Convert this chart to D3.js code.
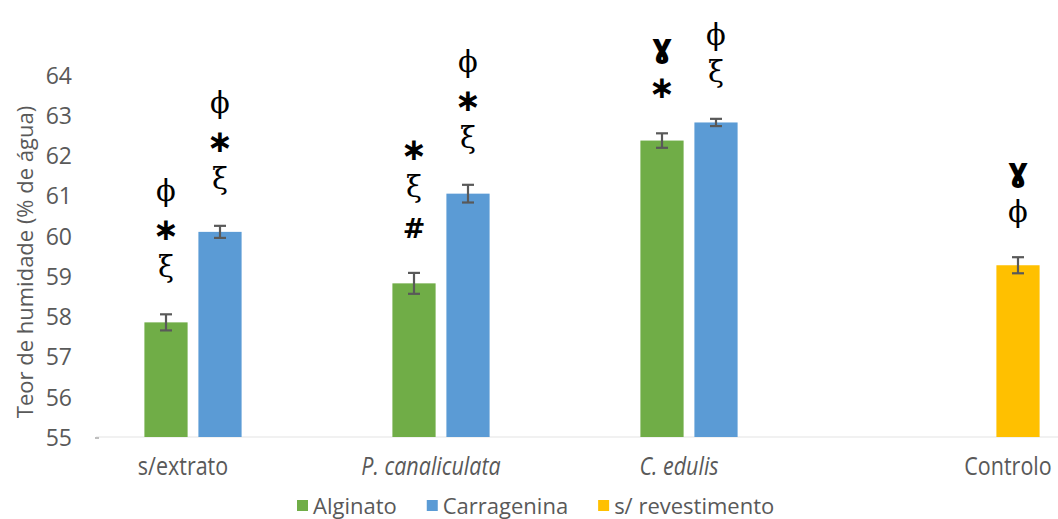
<!DOCTYPE html>
<html>
<head>
<meta charset="utf-8">
<script src="https://cdn.jsdelivr.net/npm/d3@7"></script>
<style>
  html, body { margin: 0; padding: 0; background: #fff; }
  svg { display: block; }
  .lbl { font-family: "Open Sans", sans-serif; fill: #595959; }
</style>
</head>
<body>
<svg id="chart" width="1058" height="519"></svg>
<script>
// Moisture content by coating and extract
const categories = ["s/extrato", "P. canaliculata", "C. edulis", "Controlo"];
const italicCategories = ["P. canaliculata", "C. edulis"];
const seriesNames = ["Alginato", "Carragenina", "s/ revestimento"];
const seriesColors = ["#70AD47", "#5B9BD5", "#FFC000"];

// mean values per category (null = not measured for that coating)
const alginato      = [57.85, 58.82, 62.37, null];
const carragenina   = [60.10, 61.05, 62.82, null];
const semRevest     = [null, null, null, 59.27];

// standard deviation per bar
const alginatoErr    = [0.20, 0.26, 0.18, null];
const carrageninaErr = [0.15, 0.22, 0.09, null];
const semRevestErr   = [null, null, null, 0.20];

// significance markers above each bar, listed top to bottom
const alginatoMarks    = [["ϕ", "∗", "ξ"], ["∗", "ξ", "#"], ["ɣ", "∗"], []];
const carrageninaMarks = [["ϕ", "∗", "ξ"], ["ϕ", "∗", "ξ"], ["ϕ", "ξ"], []];
const semRevestMarks   = [[], [], [], ["ɣ", "ϕ"]];

const yTicks = [55, 56, 57, 58, 59, 60, 61, 62, 63, 64];
const yLabel = "Teor de humidade (% de água)";

const values = [alginato, carragenina, semRevest];
const errors = [alginatoErr, carrageninaErr, semRevestErr];
const marks  = [alginatoMarks, carrageninaMarks, semRevestMarks];

const svg = d3.select("#chart");
const margin = { top: 75, left: 96, bottom: 82 };
const plotRight = 1088;           // plot area runs past the right edge
const height = 519;
const y0 = height - margin.bottom;

const x0 = d3.scaleBand()
  .domain(categories)
  .range([margin.left, plotRight])
  .paddingInner(0.3468)
  .paddingOuter(0.1734);

const x1 = d3.scaleBand()
  .domain(seriesNames)
  .range([0, x0.bandwidth()])
  .paddingInner(0.2)
  .paddingOuter(0.1);

const y = d3.scaleLinear().domain([55, 64]).range([y0, margin.top]);

// baseline
svg.append("line")
  .attr("x1", margin.left).attr("x2", 1058)
  .attr("y1", y(55)).attr("y2", y(55))
  .attr("stroke", "#e3e3e3").attr("stroke-width", 1);
svg.append("line")
  .attr("x1", margin.left - 1).attr("x2", margin.left + 3)
  .attr("y1", y(55) + 1).attr("y2", y(55) + 1)
  .attr("stroke", "#bfbfbf").attr("stroke-width", 2);

// y axis tick labels
const yAxis = d3.axisLeft(y).tickValues(yTicks).tickSize(0).tickPadding(0).tickFormat(d3.format("d"));
const yg = svg.append("g").attr("transform", `translate(${margin.left - 24},0)`).call(yAxis);
yg.select(".domain").remove();
yg.selectAll("text")
  .attr("class", "lbl")
  .attr("font-size", 23)
  .attr("dy", "0.36em")
  .attr("x", 0)
  .style("font-family", "'Open Sans', sans-serif")
  .style("fill", "#595959");

// y axis title
svg.append("text")
  .attr("class", "lbl")
  .attr("font-size", 22)
  .attr("text-anchor", "middle")
  .attr("transform", `translate(33,${(y(55) + y(64)) / 2 + 6}) rotate(-90)`)
  .text(yLabel);

// bars, error bars and markers
const barData = [];
categories.forEach((c, ci) => {
  seriesNames.forEach((s, si) => {
    const v = values[si][ci];
    if (v == null) return;
    barData.push({ c, s, si, v, e: errors[si][ci], m: marks[si][ci] });
  });
});

const bars = svg.append("g");
bars.selectAll("rect").data(barData).join("rect")
  .attr("x", d => x0(d.c) + x1(d.s))
  .attr("width", x1.bandwidth())
  .attr("y", d => y(d.v))
  .attr("height", d => y(55) - y(d.v))
  .attr("fill", d => seriesColors[d.si]);

const cx = d => x0(d.c) + x1(d.s) + x1.bandwidth() / 2;
const eb = svg.append("g").attr("stroke", "#595959").attr("stroke-width", 2.2);
barData.forEach(d => {
  const xc = cx(d);
  eb.append("line").attr("x1", xc).attr("x2", xc).attr("y1", y(d.v + d.e)).attr("y2", y(d.v - d.e));
  eb.append("line").attr("x1", xc - 6).attr("x2", xc + 6).attr("y1", y(d.v + d.e)).attr("y2", y(d.v + d.e));
  eb.append("line").attr("x1", xc - 6).attr("x2", xc + 6).attr("y1", y(d.v - d.e)).attr("y2", y(d.v - d.e));
});

// markers, stacked upward from the error bar
const markStyle = {
  "ϕ": { font: "'DejaVu Serif', serif", size: 29, weight: "normal", dy: 10 },
  "ξ": { font: "'DejaVu Serif', serif", size: 29, weight: "normal", dy: 8 },
  "∗": { font: "'DejaVu Sans', sans-serif", size: 31, weight: "bold", dy: 10 },
  "#": { font: "'DejaVu Sans', sans-serif", size: 27, weight: "bold", dy: 10 },
  "ɣ": { font: "'DejaVu Sans', sans-serif", size: 32, weight: "bold", dy: 8 }
};
const mg = svg.append("g");
barData.forEach(d => {
  const xc = cx(d);
  const base = y(d.v + d.e) - 45;
  const n = d.m.length;
  d.m.forEach((sym, i) => {
    const st = markStyle[sym];
    mg.append("text")
      .attr("x", xc)
      .attr("y", base - (n - 1 - i) * 39 + st.dy)
      .attr("text-anchor", "middle")
      .attr("font-family", st.font)
      .attr("font-size", st.size)
      .attr("font-weight", st.weight)
      .attr("fill", "#000")
      .text(sym);
  });
});

// category labels, centred under the bars present in each category
const cg = svg.append("g");
categories.forEach(c => {
  const present = barData.filter(d => d.c === c).map(cx);
  const xc = d3.mean(present) - 10;
  cg.append("text")
    .attr("class", "lbl")
    .attr("font-size", 25)
    .attr("text-anchor", "middle")
    .attr("font-style", italicCategories.includes(c) ? "italic" : "normal")
    .attr("transform", `translate(${xc},${y(55) + 38}) scale(0.86,1)`)
    .text(c);
});

// legend
const lg = svg.append("g").attr("transform", `translate(0,${height - 1})`);
let lx = 297;
seriesNames.forEach((s, i) => {
  lg.append("rect").attr("x", lx).attr("y", -18).attr("width", 11).attr("height", 11).attr("fill", seriesColors[i]);
  const t = lg.append("text")
    .attr("class", "lbl")
    .attr("font-size", 22)
    .attr("x", lx + 16)
    .attr("y", -4)
    .text(s);
  lx += 16 + t.node().getComputedTextLength() + 30;
});
</script>
</body>
</html>
